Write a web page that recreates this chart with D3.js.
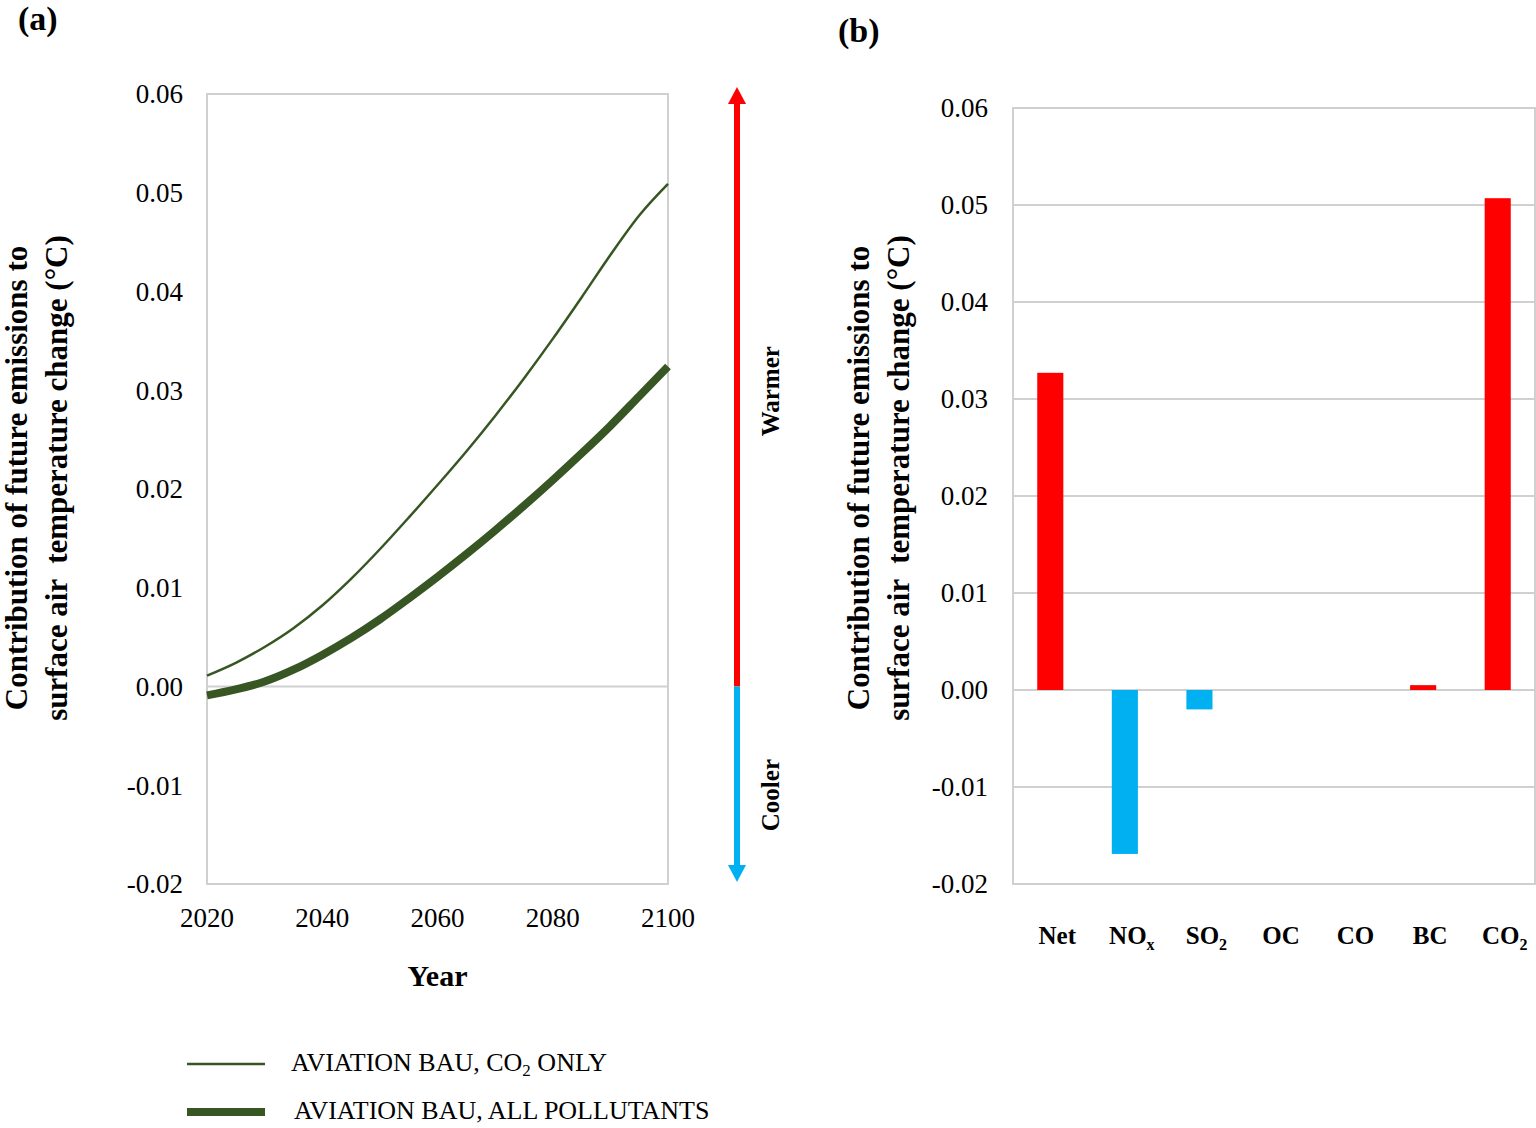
<!DOCTYPE html>
<html>
<head>
<meta charset="utf-8">
<script src="https://cdn.jsdelivr.net/npm/d3@7"></script>
<style>
  body { margin: 0; background: #fff; }
  text { font-family: "Liberation Serif", "Times New Roman", serif; fill: #000; }
</style>
</head>
<body>
<script>
// Panel (a): years and the two temperature-contribution series
var years = [2020, 2025, 2030, 2035, 2040, 2045, 2050, 2055, 2060, 2065, 2070, 2075, 2080, 2085, 2090, 2095, 2100];
var co2Only = [0.0011, 0.0024, 0.0040, 0.0059, 0.0082, 0.0109, 0.0139, 0.0171, 0.0204, 0.0238, 0.0274, 0.0312, 0.0352, 0.0394, 0.0437, 0.0477, 0.0509];
var allPollutants = [-0.0009, -0.0003, 0.0005, 0.0017, 0.0032, 0.0049, 0.0068, 0.0089, 0.0111, 0.0134, 0.0158, 0.0183, 0.0209, 0.0236, 0.0264, 0.0294, 0.0324];
var yearTicks = [2020, 2040, 2060, 2080, 2100];
var tempTicks = [-0.02, -0.01, 0.00, 0.01, 0.02, 0.03, 0.04, 0.05, 0.06];

// Panel (b): contribution per species in 2100
var species = ["Net", "NOx", "SO2", "OC", "CO", "BC", "CO2"];
var speciesValues = [0.0327, -0.0169, -0.0020, 0.0000, 0.0000, 0.0005, 0.0507];

var green = "#375623", red = "#ff0000", blue = "#00b0f0", gridCol = "#d0d0d0";

var svg = d3.select("body").append("svg")
    .attr("width", 1536)
    .attr("height", 1128);

var fmt = function(d) { return d3.format(".2f")(d).replace("\u2212", "-"); };

// ---------- panel (a) ----------
var xA = d3.scaleLinear().domain([2020, 2100]).range([207, 668]);
var yA = d3.scaleLinear().domain([-0.02, 0.06]).range([884, 94]);

svg.append("rect")
    .attr("x", xA(2020)).attr("y", yA(0.06))
    .attr("width", xA(2100) - xA(2020)).attr("height", yA(-0.02) - yA(0.06))
    .style("fill", "none").style("stroke", gridCol).style("stroke-width", 2);

svg.append("line")
    .attr("x1", xA(2020)).attr("x2", xA(2100))
    .attr("y1", yA(0)).attr("y2", yA(0))
    .style("stroke", gridCol).style("stroke-width", 2);

svg.append("g").selectAll("text")
    .data(tempTicks).enter().append("text")
    .attr("x", 183).attr("y", function(d) { return yA(d); })
    .attr("dy", "0.35em")
    .style("text-anchor", "end").style("font-size", "27px")
    .text(fmt);

svg.append("g").selectAll("text")
    .data(yearTicks).enter().append("text")
    .attr("x", function(d) { return xA(d); }).attr("y", yA(-0.02) + 34)
    .attr("dy", "0.35em")
    .style("text-anchor", "middle").style("font-size", "27px")
    .text(function(d) { return d; });

svg.append("text")
    .attr("x", (xA(2020) + xA(2100)) / 2).attr("y", 975)
    .attr("dy", "0.35em")
    .style("text-anchor", "middle").style("font-size", "30px").style("font-weight", "bold")
    .text("Year");

var lineA = function(vals) {
    return d3.line()
        .x(function(d, i) { return xA(years[i]); })
        .y(function(d) { return yA(d); })
        .curve(d3.curveMonotoneX)(vals);
};

svg.append("path").attr("d", lineA(co2Only))
    .style("fill", "none").style("stroke", green).style("stroke-width", 2.5);
svg.append("path").attr("d", lineA(allPollutants))
    .style("fill", "none").style("stroke", green).style("stroke-width", 8);

// y labels (two lines, rotated)
function yLabel(cx, cy) {
    var lines = ["Contribution of future emissions to", "surface air  temperature change (\u00B0C)"];
    lines.forEach(function(t, i) {
        svg.append("text")
            .attr("transform", "translate(" + (cx + i * 40) + "," + cy + ") rotate(-90)")
            .attr("dy", "0.35em")
            .style("text-anchor", "middle").style("font-size", "31px").style("font-weight", "bold")
            .style("white-space", "pre")
            .text(t);
    });
}
yLabel(16, 478);

// warmer / cooler arrow
var ax = 737;
svg.append("line")
    .attr("x1", ax).attr("x2", ax).attr("y1", yA(0)).attr("y2", yA(0.06) + 8)
    .style("stroke", red).style("stroke-width", 6);
svg.append("path")
    .attr("d", "M" + ax + "," + (yA(0.06) - 7) + "l-9,17h18z")
    .style("fill", red);
svg.append("line")
    .attr("x1", ax).attr("x2", ax).attr("y1", yA(0)).attr("y2", yA(-0.02) - 12)
    .style("stroke", blue).style("stroke-width", 6);
svg.append("path")
    .attr("d", "M" + ax + "," + (yA(-0.02) - 2) + "l-9,-17h18z")
    .style("fill", blue);

svg.append("text")
    .attr("transform", "translate(770," + yA(0.0299) + ") rotate(-90)")
    .attr("dy", "0.35em")
    .style("text-anchor", "middle").style("font-size", "25px").style("font-weight", "bold")
    .text("Warmer");
svg.append("text")
    .attr("transform", "translate(770," + yA(-0.0110) + ") rotate(-90)")
    .attr("dy", "0.35em")
    .style("text-anchor", "middle").style("font-size", "25px").style("font-weight", "bold")
    .text("Cooler");

// legend
var legend = svg.append("g");
[["AVIATION BAU, CO", "2", " ONLY", 2.5, 1064, 291], ["AVIATION BAU, ALL POLLUTANTS", "", "", 8, 1112, 294]].forEach(function(l) {
    legend.append("line")
        .attr("x1", 187).attr("x2", 265).attr("y1", l[4]).attr("y2", l[4])
        .style("stroke", green).style("stroke-width", l[3]);
    var t = legend.append("text")
        .attr("x", l[5]).attr("y", l[4] - 2)
        .attr("dy", "0.33em")
        .style("font-size", "26px");
    t.append("tspan").text(l[0]);
    if (l[1]) {
        t.append("tspan").attr("dy", 5).style("font-size", "17px").text(l[1]);
        t.append("tspan").attr("dy", -5).text(l[2]);
    }
});

// panel letters
svg.append("text").attr("x", 18).attr("y", 30)
    .style("font-size", "34px").style("font-weight", "bold").text("(a)");
svg.append("text").attr("x", 838).attr("y", 42)
    .style("font-size", "34px").style("font-weight", "bold").text("(b)");

// ---------- panel (b) ----------
var xB = d3.scaleBand().domain(species).range([1013, 1535]).paddingInner(0.65).paddingOuter(0.325);
var yB = d3.scaleLinear().domain([-0.02, 0.06]).range([884, 108]);

svg.append("g").selectAll("line")
    .data(tempTicks).enter().append("line")
    .attr("x1", 1013).attr("x2", 1535)
    .attr("y1", function(d) { return yB(d); }).attr("y2", function(d) { return yB(d); })
    .style("stroke", gridCol).style("stroke-width", 2);

svg.append("rect")
    .attr("x", 1013).attr("y", yB(0.06))
    .attr("width", 1535 - 1013).attr("height", yB(-0.02) - yB(0.06))
    .style("fill", "none").style("stroke", gridCol).style("stroke-width", 2);

svg.append("g").selectAll("text")
    .data(tempTicks).enter().append("text")
    .attr("x", 988).attr("y", function(d) { return yB(d); })
    .attr("dy", "0.35em")
    .style("text-anchor", "end").style("font-size", "27px")
    .text(fmt);

svg.append("g").selectAll("rect")
    .data(species).enter().append("rect")
    .attr("x", function(d) { return xB(d); })
    .attr("width", xB.bandwidth())
    .attr("y", function(d, i) { return yB(Math.max(0, speciesValues[i])); })
    .attr("height", function(d, i) { return Math.abs(yB(speciesValues[i]) - yB(0)); })
    .style("fill", function(d, i) { return speciesValues[i] >= 0 ? red : blue; });

// category labels with subscripts
var catLabels = svg.append("g").selectAll("text")
    .data(species).enter().append("text")
    .attr("x", function(d) { return xB(d) + xB.bandwidth() / 2 + 7; })
    .attr("y", 935)
    .attr("dy", "0.35em")
    .style("text-anchor", "middle").style("font-size", "25px").style("font-weight", "bold");
catLabels.each(function(d) {
    var el = d3.select(this);
    var m = d.match(/^([A-Z]+)([x0-9]?)$/);
    if (m && m[2] && d !== "Net") {
        el.append("tspan").text(m[1]);
        el.append("tspan").attr("dy", 6).style("font-size", "16px").text(m[2]);
    } else {
        el.text(d);
    }
});

yLabel(858, 478);
</script>
</body>
</html>
